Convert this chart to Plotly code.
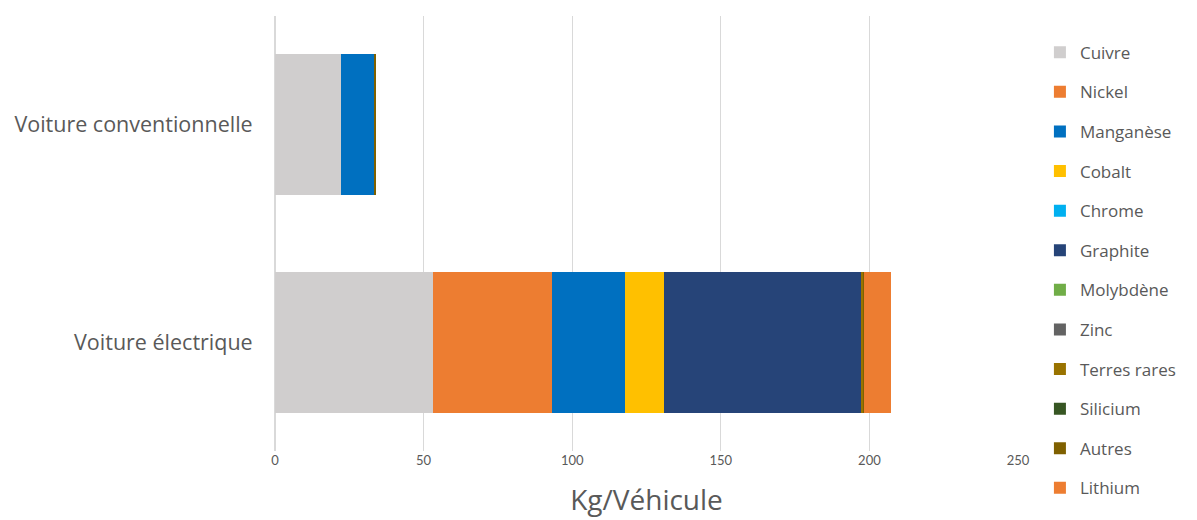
import plotly.graph_objects as go

vehicules = ["Voiture électrique", "Voiture conventionnelle"]

materiaux = ["Cuivre", "Nickel", "Manganèse", "Cobalt", "Chrome", "Graphite",
             "Molybdène", "Zinc", "Terres rares", "Silicium", "Autres", "Lithium"]

# kg par véhicule : [électrique, conventionnelle]
cuivre = [53.2, 22.3]
nickel = [39.9, 0]
manganese = [24.5, 11.2]
cobalt = [13.3, 0]
chrome = [0.1, 0]
graphite = [66.3, 0]
molybdene = [0.1, 0]
zinc = [0.1, 0]
terres_rares = [0.5, 0]
silicium = [0, 0]
autres = [0.3, 0.3]
lithium = [8.9, 0]

valeurs = [cuivre, nickel, manganese, cobalt, chrome, graphite,
           molybdene, zinc, terres_rares, silicium, autres, lithium]

couleurs = ["#D0CECE", "#ED7D31", "#0070C0", "#FFC000", "#00B0F0", "#264478",
            "#70AD47", "#636363", "#997300", "#375623", "#7F6000", "#ED7D31"]

fig = go.Figure()
for nom, vals, coul in zip(materiaux, valeurs, couleurs):
    fig.add_trace(go.Bar(x=vals, y=vehicules, name=nom, orientation="h",
                         marker=dict(color=coul, line=dict(width=0)),
                         legendgroup=nom))

police = "Open Sans, sans-serif"
# la page ajoute une marge de 8 px en haut et à gauche
fig.update_layout(
    barmode="stack",
    bargap=0.35,
    width=1197, height=520,
    margin=dict(l=267, r=187, t=8, b=77, autoexpand=False),
    paper_bgcolor="white", plot_bgcolor="white",
    font=dict(family=police, color="#595959"),
    showlegend=True,
    legend=dict(x=1.0295, y=0.957, xanchor="left", yanchor="top",
                traceorder="grouped", tracegroupgap=14.5, maxheight=700,
                font=dict(size=17, color="#595959"), itemwidth=30),
    xaxis=dict(range=[0, 250], dtick=50, showgrid=True, gridcolor="#D9D9D9",
               gridwidth=1, zeroline=True, zerolinecolor="#D9D9D9",
               tickfont=dict(family="Liberation Sans Narrow, Lato, sans-serif",
                             size=13, color="#595959"), ticks="",
               automargin=False,
               title=dict(text="Kg/Véhicule", font=dict(size=28, color="#595959"),
                          standoff=23)),
    yaxis=dict(categoryorder="array", categoryarray=vehicules,
               tickfont=dict(size=21.5, color="#595959"), ticks="outside",
               ticklen=17, tickcolor="white", showgrid=False, automargin=False),
)

fig.write_html("out.html")
